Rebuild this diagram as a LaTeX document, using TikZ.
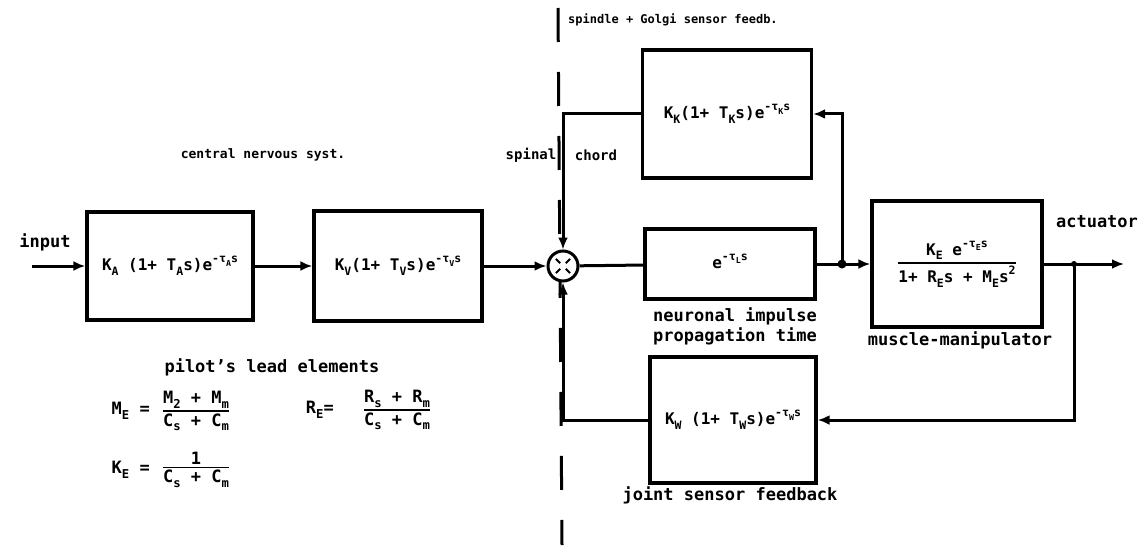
\documentclass[tikz,border=0pt]{standalone}
\usepackage{amsmath}
\usepackage{graphicx}
\usepackage{fontspec}
\setmainfont{DejaVu Sans Mono}
\usetikzlibrary{positioning, arrows.meta, calc}

\newcommand{\sbx}[1]{\raisebox{-0.28em}{\scalebox{0.72}{#1}}}
\newcommand{\spx}[1]{\raisebox{0.5em}{\scalebox{0.72}{#1}}}

\tikzset{
  lbl/.style={inner sep=0pt, font=\bfseries\fontsize{17}{20}\selectfont},
  small lbl/.style={inner sep=0pt, font=\bfseries\fontsize{12}{14}\selectfont},
  blockbox/.style={draw, line width=3.4pt, inner sep=0pt, font=\bfseries\fontsize{16}{19}\selectfont},
  wire/.style={line width=3pt},
  sig/.style={line width=3pt, -{Latex[length=12pt,width=10pt]}},
  dot/.style={circle, fill, inner sep=0pt, minimum size=9pt},
}

\begin{document}
\begin{tikzpicture}[x=1pt, y=-1pt]
\useasboundingbox (0,0) rectangle (1142,548);

% border between brain and spinal level
\draw[line width=3pt, dash pattern=on 34pt off 30pt] (558,8) -- (562,545);

% forward path
\node[blockbox, minimum width=166pt, minimum height=108pt] (boxA) at (170,266)
  {K\sbx{A} (1+ T\sbx{A}s)e\spx{-τ\sbx{A}s}};
\node[blockbox, minimum width=168pt, minimum height=110pt] (boxV) at (398,266)
  {K\sbx{V}(1+ T\sbx{V}s)e\spx{-τ\sbx{V}s}};
\node[circle, draw, fill=white, line width=3pt, minimum size=30pt, inner sep=0pt] (sum) at (563,266) {};
\foreach \a in {45,135,225,315}
  \draw[line width=2pt] ($(sum)+(\a:4pt)$) -- ($(sum)+(\a:10pt)$);
\node[blockbox, minimum width=170pt, minimum height=70pt] (boxL) at (730,264)
  {\raisebox{5pt}{e\spx{-τ\sbx{L}s}}};
\node[blockbox, minimum width=170pt, minimum height=126pt] (boxM) at (957,264)
  {$\genfrac{}{}{2.2pt}{}{\hbox{K\sbx{E} e\spx{-τ\sbx{E}s}}}{\hbox{1+ R\sbx{E}s + M\sbx{E}s\spx{2}}}$};

% feedback blocks
\node[blockbox, minimum width=169pt, minimum height=128pt] (boxK) at (727,114)
  {K\sbx{K}(1+ T\sbx{K}s)e\spx{-τ\sbx{K}s}};
\node[blockbox, minimum width=166pt, minimum height=126pt] (boxW) at (733,420)
  {K\sbx{W} (1+ T\sbx{W}s)e\spx{-τ\sbx{W}s}};

\coordinate (in) at (32,266);
\coordinate (j1) at (842,264);
\coordinate (j2) at (1074,264);
\coordinate (out) at (1124,264);

\draw[sig] (in) -- (boxA);
\draw[sig] (boxA) -- (boxV);
\draw[sig] (boxV) -- (sum);
\draw[wire] (sum) -- (boxL);
\draw[sig] (boxL.east |- j1) -- (boxM.west |- j1);
\draw[sig] (j1) |- (boxK.east);
\draw[sig] (boxK.west) -| (sum.north);
\draw[sig] (boxW.west) -| (sum.south);
\draw[sig] (boxM.east |- j2) -- (out);
\draw[sig] (j2) |- (boxW.east);
\node[dot] at (j1) {};
\node[dot, minimum size=6pt] at (j2) {};

% labels
\node[lbl] (input) at (45,242) {input};
\node[lbl, font=\bfseries\fontsize{13}{15}\selectfont] (cns) at (263,155) {central nervous syst.};
\node[lbl, font=\bfseries\fontsize{14}{16}\selectfont] (spinal) at (531,155) {spinal};
\node[lbl, font=\bfseries\fontsize{14}{16}\selectfont] (chord) at (596,155) {chord};
\node[small lbl, anchor=west] (spgo) at (568,20) {spindle + Golgi sensor feedb.};
\node[lbl] (act) at (1097,222) {actuator};
\node[lbl, align=center] (neur) at (735,326) {neuronal impulse\\propagation time};
\node[lbl] (musc) at (960,340) {muscle-manipulator};
\node[lbl] (lead) at (272,367) {pilot's lead elements};
\node[lbl] (joint) at (730,495) {joint sensor feedback};

% parameter relations
\node[lbl, anchor=east] (meq) at (150,411) {M\sbx{E} =};
\node[lbl] (mfrac) at (196,411)
  {$\genfrac{}{}{1.8pt}{}{\hbox{M\sbx{2} + M\sbx{m}}}{\hbox{C\sbx{s} + C\sbx{m}}}$};
\node[lbl, anchor=east] (req) at (334,410) {R\sbx{E}=};
\node[lbl] (rfrac) at (397,410)
  {$\genfrac{}{}{1.8pt}{}{\hbox{R\sbx{s} + R\sbx{m}}}{\hbox{C\sbx{s} + C\sbx{m}}}$};
\node[lbl, anchor=east] (keq) at (150,470) {K\sbx{E} =};
\node[lbl] (kfrac) at (196,470)
  {$\genfrac{}{}{1.8pt}{}{\hbox{1}}{\hbox{C\sbx{s} + C\sbx{m}}}$};
\end{tikzpicture}
\end{document}
